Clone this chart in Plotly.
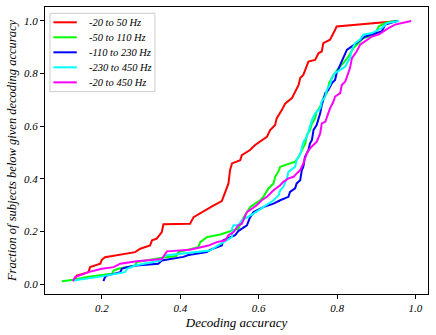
import plotly.graph_objects as go

labels = ["-20 to 50 Hz", "-50 to 110 Hz", "-110 to 230 Hz", "-230 to 450 Hz", "-20 to 450 Hz"]
colors = ["#ff0000", "#00ff00", "#0000ff", "#00ffff", "#ff00ff"]

red_x = [0.128, 0.136, 0.166, 0.170, 0.196, 0.200, 0.208, 0.285, 0.298, 0.323, 0.328, 0.340,
         0.353, 0.357, 0.425, 0.434, 0.481, 0.506, 0.515, 0.523, 0.527, 0.532, 0.553, 0.557,
         0.578, 0.591, 0.621, 0.629, 0.642, 0.646, 0.659, 0.668, 0.685, 0.693, 0.702, 0.706,
         0.714, 0.727, 0.744, 0.753, 0.761, 0.765, 0.782, 0.791, 0.799, 0.956]
red_y = [0.014, 0.033, 0.046, 0.065, 0.078, 0.093, 0.103, 0.122, 0.135, 0.147, 0.167, 0.173,
         0.198, 0.228, 0.230, 0.255, 0.296, 0.316, 0.351, 0.383, 0.433, 0.459, 0.471, 0.490,
         0.510, 0.529, 0.560, 0.585, 0.605, 0.630, 0.662, 0.687, 0.707, 0.732, 0.757, 0.783,
         0.795, 0.846, 0.852, 0.878, 0.884, 0.916, 0.929, 0.954, 0.979, 1.000]

green_x = [0.098, 0.128, 0.166, 0.226, 0.230, 0.242, 0.285, 0.289, 0.353, 0.390, 0.395, 0.412,
           0.446, 0.451, 0.468, 0.502, 0.532, 0.548, 0.561, 0.578, 0.591, 0.604, 0.612, 0.625,
           0.638, 0.642, 0.650, 0.655, 0.680, 0.693, 0.702, 0.710, 0.719, 0.723, 0.731, 0.736,
           0.744, 0.748, 0.757, 0.765, 0.774, 0.780, 0.791, 0.804, 0.816, 0.829, 0.842, 0.855,
           0.867, 0.897, 0.906, 0.923, 0.948]
green_y = [0.011, 0.017, 0.029, 0.040, 0.052, 0.059, 0.071, 0.084, 0.101, 0.107, 0.122, 0.128,
           0.141, 0.160, 0.179, 0.189, 0.205, 0.211, 0.252, 0.293, 0.306, 0.319, 0.332, 0.364,
           0.383, 0.408, 0.427, 0.446, 0.459, 0.465, 0.484, 0.510, 0.535, 0.567, 0.586, 0.611,
           0.630, 0.655, 0.675, 0.707, 0.726, 0.765, 0.795, 0.821, 0.840, 0.865, 0.897, 0.916,
           0.935, 0.948, 0.979, 0.992, 1.000]

blue_x = [0.204, 0.208, 0.213, 0.247, 0.251, 0.264, 0.289, 0.344, 0.353, 0.408, 0.421, 0.468,
          0.476, 0.506, 0.510, 0.540, 0.548, 0.570, 0.578, 0.587, 0.612, 0.638, 0.655, 0.676,
          0.680, 0.693, 0.697, 0.706, 0.710, 0.714, 0.718, 0.727, 0.731, 0.736, 0.740, 0.748,
          0.753, 0.757, 0.761, 0.765, 0.770, 0.778, 0.787, 0.795, 0.799, 0.808, 0.825, 0.855,
          0.872, 0.914, 0.923, 0.953]
blue_y = [0.012, 0.027, 0.033, 0.046, 0.059, 0.065, 0.071, 0.078, 0.090, 0.104, 0.111, 0.122,
          0.131, 0.147, 0.167, 0.186, 0.202, 0.224, 0.254, 0.274, 0.293, 0.306, 0.319, 0.332,
          0.351, 0.364, 0.383, 0.395, 0.433, 0.446, 0.483, 0.510, 0.535, 0.548, 0.586, 0.605,
          0.630, 0.649, 0.681, 0.700, 0.726, 0.738, 0.764, 0.776, 0.802, 0.833, 0.890, 0.922,
          0.941, 0.960, 0.986, 1.000]

cyan_x = [0.128, 0.196, 0.259, 0.264, 0.285, 0.349, 0.361, 0.417, 0.476, 0.510, 0.532, 0.532,
          0.536, 0.548, 0.557, 0.587, 0.604, 0.621, 0.638, 0.651, 0.655, 0.663, 0.672, 0.676,
          0.693, 0.697, 0.706, 0.710, 0.714, 0.723, 0.727, 0.731, 0.736, 0.744, 0.757, 0.761,
          0.770, 0.774, 0.782, 0.787, 0.795, 0.808, 0.821, 0.833, 0.838, 0.846, 0.859, 0.867,
          0.889, 0.914, 0.927, 0.958]
cyan_y = [0.014, 0.029, 0.046, 0.059, 0.071, 0.090, 0.109, 0.117, 0.128, 0.160, 0.179, 0.211,
          0.224, 0.224, 0.243, 0.268, 0.285, 0.300, 0.319, 0.338, 0.357, 0.370, 0.402, 0.427,
          0.446, 0.471, 0.494, 0.516, 0.541, 0.560, 0.579, 0.598, 0.624, 0.649, 0.668, 0.694,
          0.713, 0.738, 0.757, 0.783, 0.802, 0.814, 0.827, 0.859, 0.891, 0.916, 0.929, 0.948,
          0.954, 0.973, 0.992, 1.000]

magenta_x = [0.126, 0.132, 0.166, 0.200, 0.230, 0.247, 0.289, 0.353, 0.366, 0.425, 0.472, 0.493,
             0.515, 0.523, 0.536, 0.548, 0.557, 0.570, 0.595, 0.608, 0.621, 0.638, 0.655, 0.663,
             0.676, 0.689, 0.697, 0.706, 0.714, 0.723, 0.731, 0.740, 0.748, 0.757, 0.761, 0.770,
             0.778, 0.782, 0.791, 0.795, 0.808, 0.812, 0.821, 0.825, 0.833, 0.838, 0.850, 0.859,
             0.872, 0.889, 0.906, 0.918, 0.931, 0.948, 0.965, 0.989]
magenta_y = [0.011, 0.027, 0.046, 0.059, 0.065, 0.078, 0.087, 0.096, 0.125, 0.131, 0.147, 0.160,
             0.167, 0.186, 0.198, 0.224, 0.230, 0.274, 0.300, 0.319, 0.332, 0.357, 0.376, 0.389,
             0.402, 0.408, 0.421, 0.433, 0.459, 0.498, 0.516, 0.529, 0.541, 0.573, 0.611, 0.617,
             0.649, 0.668, 0.694, 0.713, 0.726, 0.757, 0.770, 0.789, 0.821, 0.859, 0.884, 0.910,
             0.922, 0.941, 0.948, 0.960, 0.973, 0.986, 0.992, 1.000]

xs = [red_x, green_x, blue_x, cyan_x, magenta_x]
ys = [red_y, green_y, blue_y, cyan_y, magenta_y]

FONT = "Liberation Serif, Times New Roman, serif"

fig = go.Figure()
for x, y, name, c in zip(xs, ys, labels, colors):
    fig.add_trace(go.Scatter(x=x, y=y, mode="lines", name=name,
                             line=dict(color=c, width=2), showlegend=False))

# Compact matplotlib-style legend (plotly's own legend rows are too tall)
fig.add_shape(type="rect", xref="paper", yref="paper", x0=0.013, x1=0.287, y0=0.705, y1=0.978,
              line=dict(color="#cccccc", width=1), fillcolor="rgba(255,255,255,0.8)")
row_y = 0.9467
for name, c in zip(labels, colors):
    fig.add_shape(type="line", xref="paper", yref="paper", x0=0.022, x1=0.083, y0=row_y, y1=row_y,
                  line=dict(color=c, width=2))
    fig.add_annotation(xref="paper", yref="paper", x=0.110, y=row_y, text=name, showarrow=False,
                       xanchor="left", yanchor="middle",
                       font=dict(family=FONT, style="italic", size=10.5, color="black"))
    row_y -= 0.0523

axis_style = dict(
    showgrid=False, zeroline=False,
    showline=True, linecolor="black", linewidth=1, mirror=True,
    ticks="outside", ticklen=4, tickwidth=1, tickcolor="black",
    tickformat=".1f", dtick=0.2,
)

fig.update_layout(
    width=436, height=335,
    margin=dict(l=45, r=8, t=7, b=41),
    paper_bgcolor="white", plot_bgcolor="white",
    font=dict(family=FONT, style="italic", size=11, color="black"),
    xaxis=dict(range=[0.055, 1.032], title=dict(text="Decoding accuracy", font=dict(size=13), standoff=4),
               **axis_style),
    yaxis=dict(range=[-0.037, 1.053],
               title=dict(text="Fraction of subjects below given decoding accuracy", font=dict(size=12.5), standoff=4),
               **axis_style),
)

# drop the browser's default body margin so the figure sits at the window origin
fig.write_html("out.html", config={"displayModeBar": False},
               post_script="document.body.style.margin='0';")
